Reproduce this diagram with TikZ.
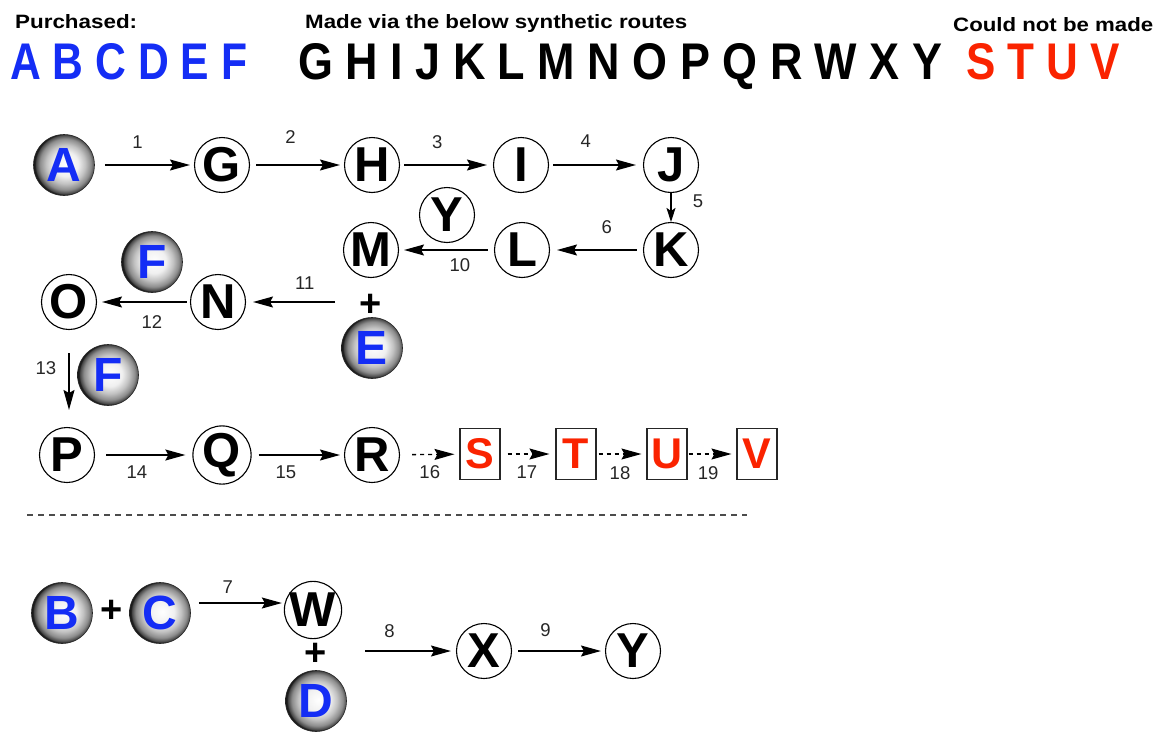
\documentclass[tikz,border=0pt]{standalone}
\usepackage{fontspec}
\setmainfont{Liberation Sans}
\usetikzlibrary{arrows.meta,calc}
\definecolor{pblue}{RGB}{20,45,245}
\definecolor{nred}{RGB}{250,35,0}
\pgfdeclareradialshading{sphere}{\pgfpoint{2bp}{1bp}}{color(0bp)=(white); color(10bp)=(white!94!black); color(16bp)=(black!24); color(21bp)=(black!45); color(24bp)=(black!72); color(25bp)=(black!90); color(50bp)=(black!90)}
\tikzset{
 plain/.style={circle, draw=black, line width=1.1pt, minimum size=55pt, inner sep=0pt, fill=white, font=\fontsize{49}{49}\selectfont\bfseries},
 ball/.style={circle, draw=black!85, line width=0.6pt, minimum size=61pt, inner sep=0pt, shading=sphere, text=pblue, font=\fontsize{48}{48}\selectfont\bfseries},
 fail/.style={rectangle, draw=black!85, line width=1.1pt, minimum width=40pt, minimum height=51pt, inner sep=0pt, text=nred, font=\fontsize{43}{43}\selectfont\bfseries},
 arr/.style={line width=1.3pt, -{Stealth[length=20pt,width=11pt,inset=3pt]}, shorten <=4pt, shorten >=5pt},
 darr/.style={arr, dash pattern=on 4pt off 4pt},
 num/.style={font=\fontsize{18.5}{18.5}\selectfont, text=black!85, inner sep=0pt},
 plus/.style={font=\fontsize{38}{38}\selectfont\bfseries, inner sep=0pt},
 head/.style={anchor=base west, inner sep=0pt},
 sep/.style={line width=1.1pt, black!70, dash pattern=on 6pt off 5pt},
}
\begin{document}
\begin{tikzpicture}[x=1pt,y=-1pt]
\useasboundingbox (0,0) rectangle (1156,731);
% header
\node[head] (h1) at (15,28) {\resizebox{122pt}{14pt}{\bfseries Purchased:}};
\node[head] (h2) at (305,28) {\resizebox{382pt}{14pt}{\bfseries Made via the below synthetic routes}};
\node[head] (h3) at (953,31) {\resizebox{200pt}{14pt}{\bfseries Could not be made}};
\node[head, text=pblue] (l1) at (10,79) {\resizebox{237pt}{36pt}{\bfseries A B C D E F}};
\node[head] (l2) at (298,79) {\resizebox{644pt}{36pt}{\bfseries G H I J K L M N O P Q R W X Y}};
\node[head, text=nred] (l3) at (966,79) {\resizebox{154pt}{36pt}{\bfseries S T U V}};
% upper route
\node[ball] (A) at (64,165) {A};
\node[plain] (G) at (222,165) {G};
\node[plain] (H) at (372,165) {H};
\node[plain] (I) at (521,165) {I};
\node[plain] (J) at (671,165) {J};
\node[plain] (K) at (671,250) {K};
\node[plain] (L) at (522,250) {L};
\node[plain] (M) at (371,250) {M};
\node[plain] (Y1) at (447,215) {Y};
\node[ball] (F1) at (152,262) {F};
\node[plain] (N) at (218,302) {N};
\node[plain] (O) at (69,302) {O};
\node[plus] (p1) at (371,305) {+};
\node[ball] (E) at (372,348) {E};
\node[ball] (F2) at (108,375) {F};
\node[plain] (P) at (67,455) {P};
\node[plain] (Q) at (222,455) {Q};
\node[plain] (R) at (372,455) {R};
\node[fail] (S) at (480,454) {S};
\node[fail] (T) at (576,454) {T};
\node[fail] (U) at (667,454) {U};
\node[fail] (V) at (757,454) {V};
\coordinate (s11) at (335,302);
\draw[arr, shorten <=10pt, shorten >=4pt] (A) -- node[num, pos=0.43, yshift=23pt] {1} (G);
\draw[arr, shorten <=6pt, shorten >=4pt] (G) -- node[num, pos=0.43, yshift=28pt] {2} (H);
\draw[arr, shorten <=4pt, shorten >=6pt] (H) -- node[num, pos=0.4, yshift=23pt] {3} (I);
\draw[arr, shorten <=4pt, shorten >=7pt] (I) -- node[num, pos=0.39, yshift=24pt] {4} (J);
\draw[arr, shorten <=0pt, shorten >=0pt, -{Stealth[length=14pt,width=9pt,inset=3pt]}] (J) -- node[num, pos=0.3, xshift=27pt] {5} (K);
\draw[arr, shorten <=6pt, shorten >=7pt] (K) -- node[num, pos=0.39, yshift=23pt] {6} (L);
\draw[arr, shorten <=6pt, shorten >=5pt] (L) -- node[num, pos=0.36, yshift=-15pt] {10} (M);
\draw[arr, shorten <=0pt, shorten >=7pt] (s11) -- node[num, pos=0.34, yshift=19pt] {11} (N);
\draw[arr, shorten <=3pt, shorten >=5pt] (N) -- node[num, pos=0.41, yshift=-20pt] {12} (O);
\draw[arr, shorten <=0pt, shorten >=0pt] ($(O.south)+(0,23)$) -- node[num, pos=0.26, xshift=-23pt] {13} ($(O.south |- P.north)+(0,-17)$);
\draw[arr, shorten <=11pt, shorten >=7pt] (P) -- node[num, pos=0.43, yshift=-17pt] {14} (Q);
\draw[arr, shorten <=7pt, shorten >=4pt] (Q) -- node[num, pos=0.37, yshift=-17pt] {15} (R);
\draw[darr, shorten <=12pt, shorten >=5pt] (R) -- node[num, pos=0.5, yshift=-18pt] {16} (S);
\draw[darr, shorten <=7pt, shorten >=6pt] (S) -- node[num, pos=0.48, yshift=-18pt] {17} (T);
\draw[darr, shorten <=2pt, shorten >=5pt] (T) -- node[num, pos=0.47, yshift=-19pt] {18} (U);
\draw[darr, shorten <=1pt, shorten >=5pt] (U) -- node[num, pos=0.42, yshift=-19pt] {19} (V);
% separator
\coordinate (d1) at (27,515);
\coordinate (d2) at (747,515);
\draw[sep] (d1) -- (d2);
% lower route
\node[ball] (B) at (62,613) {B};
\node[plus] (p2) at (112,611) {+};
\node[ball] (C) at (160,613) {C};
\node[plain] (W) at (313,610) {W};
\node[plus] (p3) at (316,654) {+};
\node[ball] (D) at (316,701) {D};
\node[plain] (X) at (484,651) {X};
\node[plain] (Y2) at (633,651) {Y};
\coordinate (s8) at (365,651);
\draw[arr, shorten <=0pt, shorten >=2pt] ([xshift=8pt,yshift=10pt]C.east) -- node[num, pos=0.34, yshift=16pt] {7} ([yshift=7pt]W.west);
\draw[arr, shorten <=0pt, shorten >=5pt] (s8) -- node[num, pos=0.27, yshift=20pt] {8} (X);
\draw[arr, shorten <=6pt, shorten >=4pt] (X) -- node[num, pos=0.36, yshift=21pt] {9} (Y2);
\end{tikzpicture}
\end{document}
